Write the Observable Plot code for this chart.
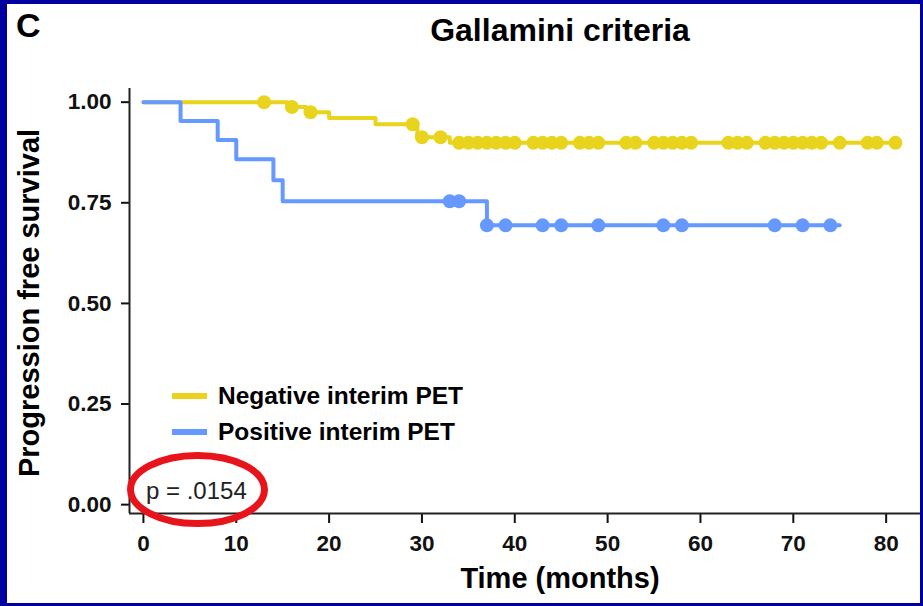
<!DOCTYPE html>
<html>
<head>
<meta charset="utf-8">
<script src="https://cdn.jsdelivr.net/npm/d3@7"></script>
<script src="https://cdn.jsdelivr.net/npm/@observablehq/plot@0.6"></script>
<style>
  html, body { margin: 0; padding: 0; background: white; }
  #wrap { position: relative; width: 923px; height: 606px; overflow: hidden; }
  #border { position: absolute; left: 0; top: 0; width: 923px; height: 606px; box-sizing: border-box;
            border-style: solid; border-color: #0000a0; border-width: 4px 3px 3px 7px; pointer-events: none; }
</style>
</head>
<body>
<div id="wrap"><div id="border"></div></div>
<script>
// ---- data ----
const seriesNames = ["Negative interim PET", "Positive interim PET"];
const seriesColors = ["#e8d41c", "#6699ff"];

// Negative interim PET (yellow)
const negEventTimes = [15.5, 17.5, 20, 25, 29.5, 33];
const negEventSurv  = [0.988, 0.975, 0.961, 0.945, 0.913, 0.899];
const negEndTime = 81;
const negCensorTimes = [13, 16, 18, 29, 30, 32, 34, 35, 36, 37, 38, 39, 40, 42, 43, 44, 45, 47, 48, 49,
  52, 53, 55, 56, 57, 58, 59, 63, 64, 65, 67, 68, 69, 70, 71, 72, 73, 75, 78, 79, 81];

// Positive interim PET (blue)
const posEventTimes = [4, 8, 10, 14, 15, 37];
const posEventSurv  = [0.953, 0.906, 0.858, 0.806, 0.754, 0.694];
const posEndTime = 75;
const posCensorTimes = [33, 34, 37, 39, 43, 45, 49, 56, 58, 68, 71, 74];

const xTicks = [0, 10, 20, 30, 40, 50, 60, 70, 80];
const yTicks = [0, 0.25, 0.5, 0.75, 1];
const xDomain = [-1.5, 83.7];
const yDomain = [-0.022, 1.034];

// ---- build tables ----
function stepTable(name, times, surv, endTime) {
  const rows = [{series: name, t: 0, s: 1}];
  times.forEach((t, i) => rows.push({series: name, t, s: surv[i]}));
  rows.push({series: name, t: endTime, s: surv[surv.length - 1]});
  return rows;
}
function survAt(times, surv, t) {
  let s = 1;
  times.forEach((et, i) => { if (et <= t) s = surv[i]; });
  return s;
}
function censorTable(name, ctimes, times, surv) {
  return ctimes.map(t => ({series: name, t, s: survAt(times, surv, t)}));
}
const negLine = stepTable(seriesNames[0], negEventTimes, negEventSurv, negEndTime);
const posLine = stepTable(seriesNames[1], posEventTimes, posEventSurv, posEndTime);
const negDots = censorTable(seriesNames[0], negCensorTimes, negEventTimes, negEventSurv);
const posDots = censorTable(seriesNames[1], posCensorTimes, posEventTimes, posEventSurv);

const font = "'Liberation Sans', Arial, Helvetica, sans-serif";

const chart = Plot.plot({
  width: 923,
  height: 606,
  marginLeft: 129,
  marginRight: 3,
  marginTop: 88,
  marginBottom: 93,
  style: {fontFamily: font, fontSize: "22px", fontWeight: "bold", color: "#111", background: "white"},
  x: {domain: xDomain},
  y: {domain: yDomain},
  color: {domain: seriesNames, range: seriesColors},
  marks: [
    Plot.axisX({ticks: xTicks, tickSize: 10, tickPadding: 12, strokeWidth: 2, label: null, fontSize: 22.5}),
    Plot.axisY({ticks: yTicks, tickSize: 8, tickPadding: 10, strokeWidth: 2, label: null, fontSize: 22.5,
                tickFormat: d3.format(".2f")}),
    Plot.ruleY([yDomain[0]], {stroke: "#222", strokeWidth: 2}),
    Plot.ruleX([xDomain[0]], {stroke: "#222", strokeWidth: 2}),
    Plot.line(negLine, {x: "t", y: "s", stroke: "series", strokeWidth: 4, curve: "step-after"}),
    Plot.dot(negDots, {x: "t", y: "s", fill: "series", r: 7}),
    Plot.line(posLine, {x: "t", y: "s", stroke: "series", strokeWidth: 4, curve: "step-after"}),
    Plot.dot(posDots, {x: "t", y: "s", fill: "series", r: 7})
  ]
});

const wrap = document.getElementById("wrap");
wrap.insertBefore(chart, wrap.firstChild);
chart.style.position = "absolute";
chart.style.left = "0px";
chart.style.top = "0px";

// ---- annotations ----
const svg = d3.select(chart);
const g = svg.append("g").attr("font-family", font).attr("text-anchor", "start");

g.append("text").attr("x", 16).attr("y", 37).attr("font-size", 34).attr("font-weight", "bold")
  .attr("text-anchor", "start").attr("fill", "#000").text("C");
g.append("text").attr("x", 560).attr("y", 41).attr("font-size", 32).attr("font-weight", "bold")
  .attr("text-anchor", "middle").attr("fill", "#000").text("Gallamini criteria");
g.append("text").attr("x", 560).attr("y", 588).attr("font-size", 29).attr("font-weight", "bold")
  .attr("text-anchor", "middle").attr("fill", "#000").text("Time (months)");
g.append("text").attr("transform", "translate(39,303) rotate(-90)").attr("font-size", 29)
  .attr("font-weight", "bold").attr("text-anchor", "middle").attr("fill", "#000")
  .text("Progression free survival");

// legend
const legendY = [396, 432];
seriesNames.forEach((name, i) => {
  g.append("line").attr("x1", 172).attr("x2", 207).attr("y1", legendY[i]).attr("y2", legendY[i])
    .attr("stroke", seriesColors[i]).attr("stroke-width", 6);
  g.append("text").attr("x", 218).attr("y", legendY[i] + 7.5).attr("font-size", 24.5)
    .attr("font-weight", "bold").attr("text-anchor", "start").attr("fill", "#000").text(name);
});

// p value
g.append("text").attr("x", 146).attr("y", 499).attr("font-size", 24).attr("font-weight", "normal")
  .attr("text-anchor", "start").attr("fill", "#222").text("p = .0154");
g.append("ellipse").attr("cx", 197.5).attr("cy", 489.5).attr("rx", 67).attr("ry", 34)
  .attr("fill", "none").attr("stroke", "#e8141b").attr("stroke-width", 7);
</script>
</body>
</html>
